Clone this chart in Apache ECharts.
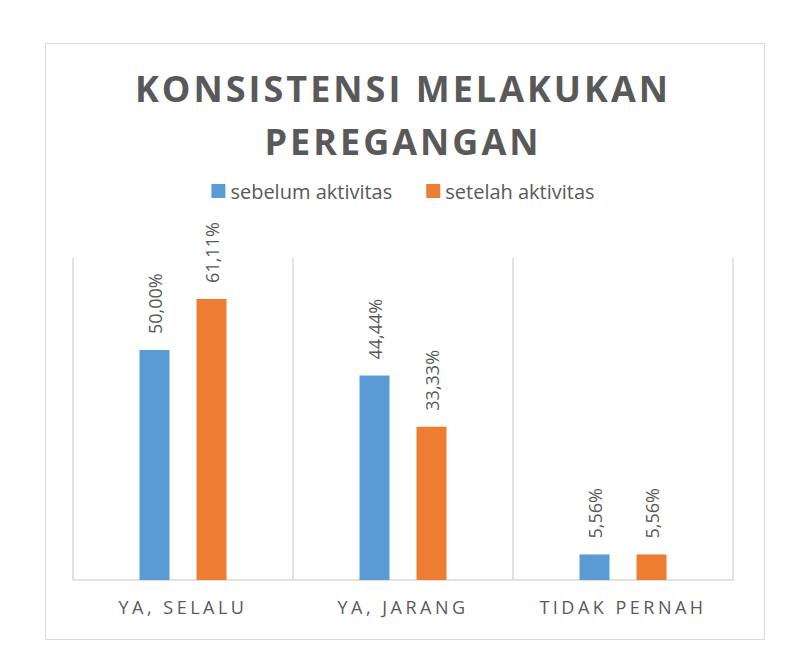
<!DOCTYPE html>
<html>
<head>
<meta charset="utf-8">
<script src="https://cdn.jsdelivr.net/npm/echarts@6/dist/echarts.min.js"></script>
<style>
html,body{margin:0;padding:0;background:#fff;}
#c{width:806px;height:667px;}
</style>
</head>
<body>
<div id="c"></div>
<script>
const titleText = 'KONSISTENSI MELAKUKAN\nPEREGANGAN';
const categories = ['YA, SELALU', 'YA, JARANG', 'TIDAK PERNAH'];
const seriesNames = ['sebelum aktivitas', 'setelah aktivitas'];
const sebelum = [50.00, 44.44, 5.56];
const setelah = [61.11, 33.33, 5.56];

const chart = echarts.init(document.getElementById('c'), null, {renderer: 'svg'});
const fmt = p => p.value.toFixed(2).replace('.', ',') + '%';
const labelCfg = {
  show: true, position: 'top', rotate: 90, align: 'left', verticalAlign: 'middle',
  distance: 16, color: '#595959', fontFamily: 'Open Sans', fontSize: 18, formatter: fmt
};
chart.setOption({
  animation: false,
  backgroundColor: '#fff',
  graphic: [{
    type: 'rect', left: 43, top: 41, silent: true,
    shape: {width: 719, height: 596},
    style: {fill: 'none', stroke: '#D9D9D9', lineWidth: 1}
  }],
  title: {
    text: titleText, left: 'center', top: 57,
    textStyle: {fontFamily: 'Open Sans', fontWeight: 'bold', fontSize: 36, lineHeight: 53, color: '#595959'}
  },
  legend: {
    data: seriesNames, top: 176, left: 'center',
    itemWidth: 14, itemHeight: 14, itemGap: 34, icon: 'rect',
    textStyle: {fontFamily: 'Open Sans', fontSize: 20, color: '#595959'}
  },
  grid: {left: 73, right: 73, top: 258, bottom: 87},
  xAxis: {
    type: 'category', data: categories,
    axisLine: {lineStyle: {color: '#D9D9D9', width: 1.5}},
    axisTick: {show: false},
    splitLine: {show: true, lineStyle: {color: '#D9D9D9', width: 1.5}},
    axisLabel: {fontFamily: 'Open Sans', fontSize: 18, color: '#595959', margin: 18}
  },
  yAxis: {
    type: 'value', min: 0, max: 70, show: false
  },
  series: [
    {name: seriesNames[0], type: 'bar', data: sebelum, barWidth: 30, barGap: '90%',
     itemStyle: {color: '#5B9BD5'}, label: labelCfg},
    {name: seriesNames[1], type: 'bar', data: setelah, barWidth: 30, barGap: '90%',
     itemStyle: {color: '#ED7D31'}, label: labelCfg}
  ]
});

function spacing() {
  const lines = titleText.split('\n');
  document.querySelectorAll('#c text').forEach(t => {
    const s = t.textContent;
    if (lines.includes(s)) t.style.letterSpacing = '3px';
    else if (categories.includes(s)) t.style.letterSpacing = '3.5px';
  });
}
chart.on('finished', spacing);
spacing();
</script>
</body>
</html>
